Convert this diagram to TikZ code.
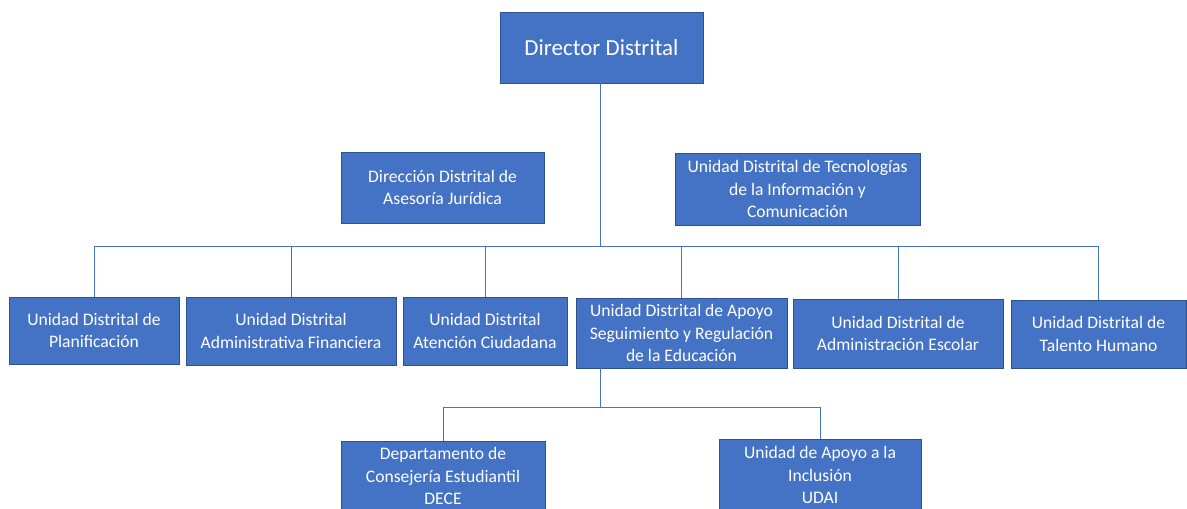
\documentclass[tikz,border=0pt]{standalone}
\usepackage{fontspec}
\setmainfont{Carlito}
\usetikzlibrary{positioning}
\definecolor{unitblue}{HTML}{4472C4}
\definecolor{unitedge}{HTML}{2F528F}

\begin{document}
\begin{tikzpicture}[x=1pt, y=-1pt]
        \tikzstyle{unit} = [rectangle, draw=unitedge, line width=0.9pt, fill=unitblue, text=white, align=center, inner sep=0pt, font=\fontsize{17.6}{22.7}\selectfont]
        \tikzstyle{link} = [draw=unitblue, line width=0.9pt]
        \useasboundingbox (0,0) rectangle (1187,509);
        \node (dir) [unit, minimum width=203pt, minimum height=71pt, font=\fontsize{23}{27}\selectfont] at (601.5,47.5) {Director Distrital};
        \node (jur) [unit, minimum width=203pt, minimum height=71pt] at (442.5,187.5) {Dirección Distrital de\\Asesoría Jurídica};
        \node (tic) [unit, minimum width=245pt, minimum height=72pt] at (797.5,189) {Unidad Distrital de Tecnologías\\de la Información y\\Comunicación};
        \node (plan) [unit, minimum width=170pt, minimum height=67pt] at (94,330.5) {Unidad Distrital de\\Planificación};
        \node (fin) [unit, minimum width=210pt, minimum height=68pt] at (291,331) {Unidad Distrital\\Administrativa Financiera};
        \node (ciu) [unit, minimum width=164pt, minimum height=68pt] at (485,331) {Unidad Distrital\\Atención Ciudadana};
        \node (seg) [unit, minimum width=211pt, minimum height=70pt] at (681.5,333) {Unidad Distrital de Apoyo\\Seguimiento y Regulación\\de la Educación};
        \node (esc) [unit, minimum width=210pt, minimum height=69pt] at (898,333.5) {Unidad Distrital de\\Administración Escolar};
        \node (tal) [unit, minimum width=175pt, minimum height=68pt] at (1098.5,334) {Unidad Distrital de\\Talento Humano};
        \node (dece) [unit, minimum width=204pt, minimum height=70pt] at (443,476) {Departamento de\\Consejería Estudiantil\\DECE};
        \node (udai) [unit, minimum width=202pt, minimum height=72pt] at (820,475) {Unidad de Apoyo a la\\Inclusión\\UDAI};
        \coordinate (bus) at (600,246);
        \coordinate (subbus) at (600,407);
        \draw [link] (dir.south -| bus) -- (bus);
        \foreach \u in {plan, fin, ciu, seg, esc, tal}
            \draw [link] (bus) -| (\u.north);
        \draw [link] (seg.south -| subbus) -- (subbus);
        \draw [link] (subbus) -| (dece.north);
        \draw [link] (subbus) -| (udai.north);
    \end{tikzpicture}
\end{document}
